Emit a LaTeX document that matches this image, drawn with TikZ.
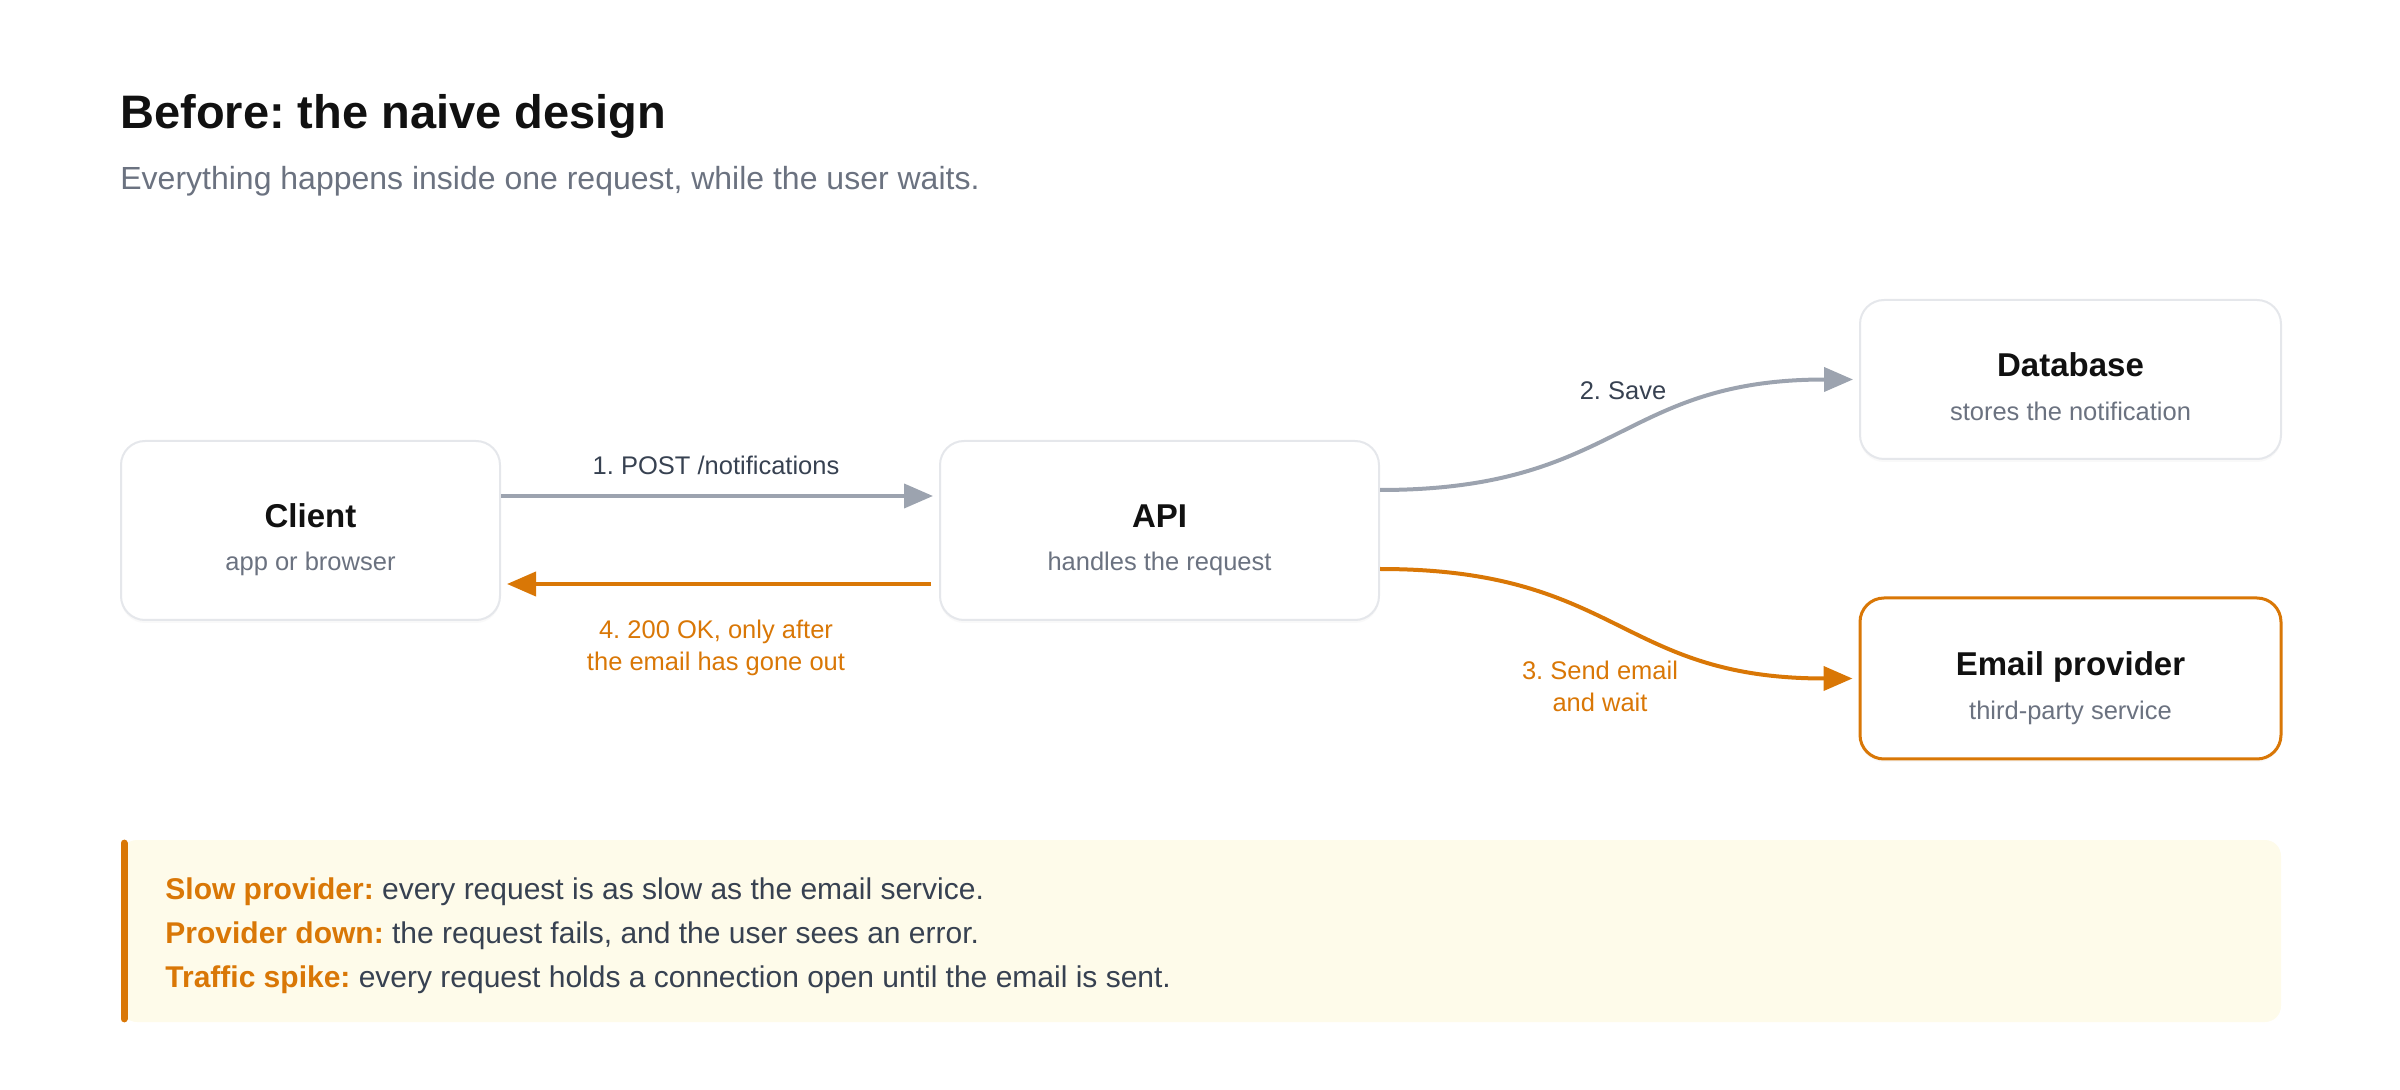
\documentclass[tikz,border=0pt]{standalone}
\usepackage{fontspec}
\setmainfont{Liberation Sans}
\usetikzlibrary{arrows.meta,shadows}
\frenchspacing

\definecolor{ink}{HTML}{111111}
\definecolor{slate}{HTML}{374151}
\definecolor{muted}{HTML}{6B7280}
\definecolor{edgegray}{HTML}{9CA3AF}
\definecolor{boxline}{HTML}{E5E7EB}
\definecolor{warn}{HTML}{D97706}
\definecolor{notebg}{HTML}{FEFBEA}

\tikzset{
  svc/.style={draw=boxline, line width=1pt, rounded corners=12pt, fill=white, inner sep=0pt,
    drop shadow={opacity=0.05, shadow xshift=0pt, shadow yshift=-1.5pt}},
  svctitle/.style={anchor=base, inner sep=0pt, font=\fontsize{16.5}{20}\selectfont\bfseries, text=ink},
  svcsub/.style={anchor=base, inner sep=0pt, font=\fontsize{12.75}{16}\selectfont, text=muted},
  flow/.style={line width=2pt, -{Triangle[length=14.5pt,width=12pt]}},
  lbl/.style={inner sep=0pt, font=\fontsize{12.75}{16}\selectfont, align=center},
  risk/.style={anchor=base west, inner sep=0pt, font=\fontsize{15}{18}\selectfont, text=slate},
}

\begin{document}
\begin{tikzpicture}[x=0.5pt,y=-0.5pt]
    \useasboundingbox (0,0) rectangle (2400,1090);

    % Heading
    \node[anchor=base west, inner sep=0pt, font=\fontsize{23.5}{28}\selectfont\bfseries, text=ink]
        (title) at (120,129) {Before: the naive design};
    \node[anchor=base west, inner sep=0pt, font=\fontsize{16}{20}\selectfont, text=muted]
        (subtitle) at (120,190) {Everything happens inside one request, while the user waits.};

    % Services
    \node[svc, minimum width=189.5pt, minimum height=89.5pt] (client) at (310.5,530.5) {};
    \node[svc, minimum width=219.5pt, minimum height=89.5pt] (api) at (1159.5,530.5) {};
    \node[svc, minimum width=210.5pt, minimum height=79.5pt] (db) at (2070.5,379.5) {};
    \node[svc, draw=warn, line width=1.5pt, minimum width=210.5pt, minimum height=80.5pt] (mail) at (2070.5,678.5) {};

    \node[svctitle] (clientT) at ([yshift=1.25pt]client.center) {Client};
    \node[svcsub] (clientS) at ([yshift=-20pt]client.center) {app or browser};
    \node[svctitle] (apiT) at ([yshift=1.25pt]api.center) {API};
    \node[svcsub] (apiS) at ([yshift=-20pt]api.center) {handles the request};
    \node[svctitle] (dbT) at ([yshift=1.25pt]db.center) {Database};
    \node[svcsub] (dbS) at ([yshift=-20.75pt]db.center) {stores the notification};
    \node[svctitle] (mailT) at ([yshift=1.25pt]mail.center) {Email provider};
    \node[svcsub] (mailS) at ([yshift=-20.75pt]mail.center) {third-party service};

    % Request and reply
    \draw[flow, edgegray, shorten >=3pt] ([yshift=17.25pt]client.east) -- ([yshift=17.25pt]api.west);
    \node[lbl, anchor=base, text=slate] (lpost) at (716,475) {1. POST /notifications};
    \draw[flow, warn, shorten <=4pt, shorten >=3pt] ([yshift=-26.75pt]api.west) -- ([yshift=-26.75pt]client.east);
    \node[lbl, text=warn] (lok) at (716,648) {4. 200 OK, only after\\the email has gone out};

    % Calls out of the API
    \draw[flow, edgegray, shorten >=3pt] ([yshift=20.25pt]api.east) .. controls +(240,0) and +(-240,0) .. (db.west);
    \node[lbl, anchor=base, text=slate] (lsave) at (1623,400) {2. Save};
    \draw[flow, warn, shorten >=3pt] ([yshift=-19.25pt]api.east) .. controls +(240,0) and +(-240,0) .. (mail.west);
    \node[lbl, text=warn] (lsend) at (1600,686) {3. Send email\\and wait};

    % What goes wrong
    \node[fill=notebg, rounded corners=8pt, inner sep=0pt, minimum width=1080pt, minimum height=91pt] (note) at (1201,931) {};
    \draw[warn, line width=3.5pt, line cap=round] ([shift={(1.75pt,-1.75pt)}]note.north west) -- ([shift={(1.75pt,1.75pt)}]note.south west);
    \node[risk] (risk1) at (165,899) {\textcolor{warn}{\bfseries Slow provider:} every request is as slow as the email service.};
    \node[risk] (risk2) at (165,943) {\textcolor{warn}{\bfseries Provider down:} the request fails, and the user sees an error.};
    \node[risk] (risk3) at (165,987) {\textcolor{warn}{\bfseries Traffic spike:} every request holds a connection open until the email is sent.};
\end{tikzpicture}
\end{document}
